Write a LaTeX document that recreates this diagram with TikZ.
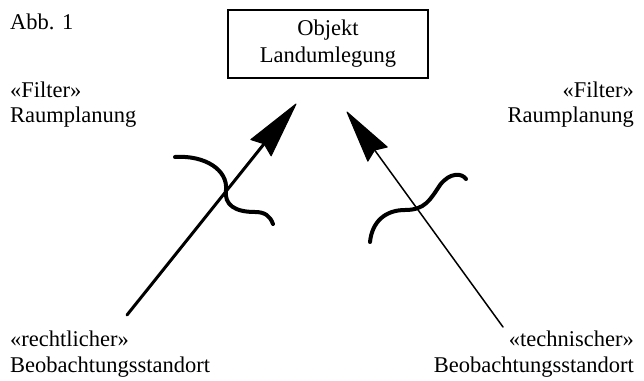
\documentclass[tikz,border=0pt]{standalone}
\usepackage{fontspec}
\setmainfont{Liberation Serif}
\usetikzlibrary{calc}
\tikzset{
  lbl/.style={inner sep=0pt, font=\fontsize{22.5}{26}\selectfont},
  objbox/.style={draw, line width=1.6pt, minimum width=200pt, minimum height=68pt, align=center, font=\fontsize{22.5}{27}\selectfont},
  shaftthick/.style={line width=3pt, line cap=round},
  shaftthin/.style={line width=1.5pt, line cap=round},
  squig/.style={line width=4pt, line cap=round},
  headfill/.style={fill=black, draw=black, line width=1pt, line join=round}
}
\begin{document}
\begin{tikzpicture}[x=1pt,y=-1pt]
\useasboundingbox (0,0) rectangle (644,380);
% texts
\node[lbl, anchor=base west] (abb) at (10,29) {Abb. 1};
\node[objbox] (obj) at (328,44) {Objekt\\Landumlegung};
\node[lbl, anchor=base west] (fl1) at (10,97) {«Filter»};
\node[lbl, anchor=base west] (fl2) at (10,122) {Raumplanung};
\node[lbl, anchor=base east] (fr1) at (634,97) {«Filter»};
\node[lbl, anchor=base east] (fr2) at (634,122) {Raumplanung};
\node[lbl, anchor=base west] (rl1) at (10,346) {«rechtlicher»};
\node[lbl, anchor=base west] (rl2) at (10,372) {Beobachtungsstandort};
\node[lbl, anchor=base east] (rr1) at (634,346) {«technischer»};
\node[lbl, anchor=base east] (rr2) at (634,372) {Beobachtungsstandort};
% left arrow
\coordinate (tailL) at (127,315);
\coordinate (tipL) at (296,104);
\coordinate (baseL) at ($(tipL)!56pt!(tailL)$);
\coordinate (notchL) at ($(tipL)!51pt!(tailL)$);
\coordinate (b1L) at ($(baseL)!13pt!90:(tipL)$);
\coordinate (b2L) at ($(baseL)!13pt!-90:(tipL)$);
\draw[shaftthick] (tailL) -- (notchL);
\fill[headfill] (tipL) -- (b1L) -- (notchL) -- (b2L) -- cycle;
% right arrow
\coordinate (tailR) at (503,327);
\coordinate (tipR) at (347,112);
\coordinate (baseR) at ($(tipR)!52pt!(tailR)$);
\coordinate (notchR) at ($(tipR)!47pt!(tailR)$);
\coordinate (b1R) at ($(baseR)!12pt!90:(tipR)$);
\coordinate (b2R) at ($(baseR)!12pt!-90:(tipR)$);
\draw[shaftthin] (tailR) -- (notchR);
\fill[headfill] (tipR) -- (b1R) -- (notchR) -- (b2R) -- cycle;
% squiggles
\draw[squig] (175,157) .. controls (205,155) and (228,170) .. (226,190)
  .. controls (224,205) and (235,212) .. (255,212)
  .. controls (265,212) and (270,216) .. (273,224);
\draw[squig] (370,242) .. controls (372,222) and (385,210) .. (405,210)
  .. controls (425,210) and (430,200) .. (440,185)
  .. controls (450,172) and (462,173) .. (466,179);
\end{tikzpicture}
\end{document}
